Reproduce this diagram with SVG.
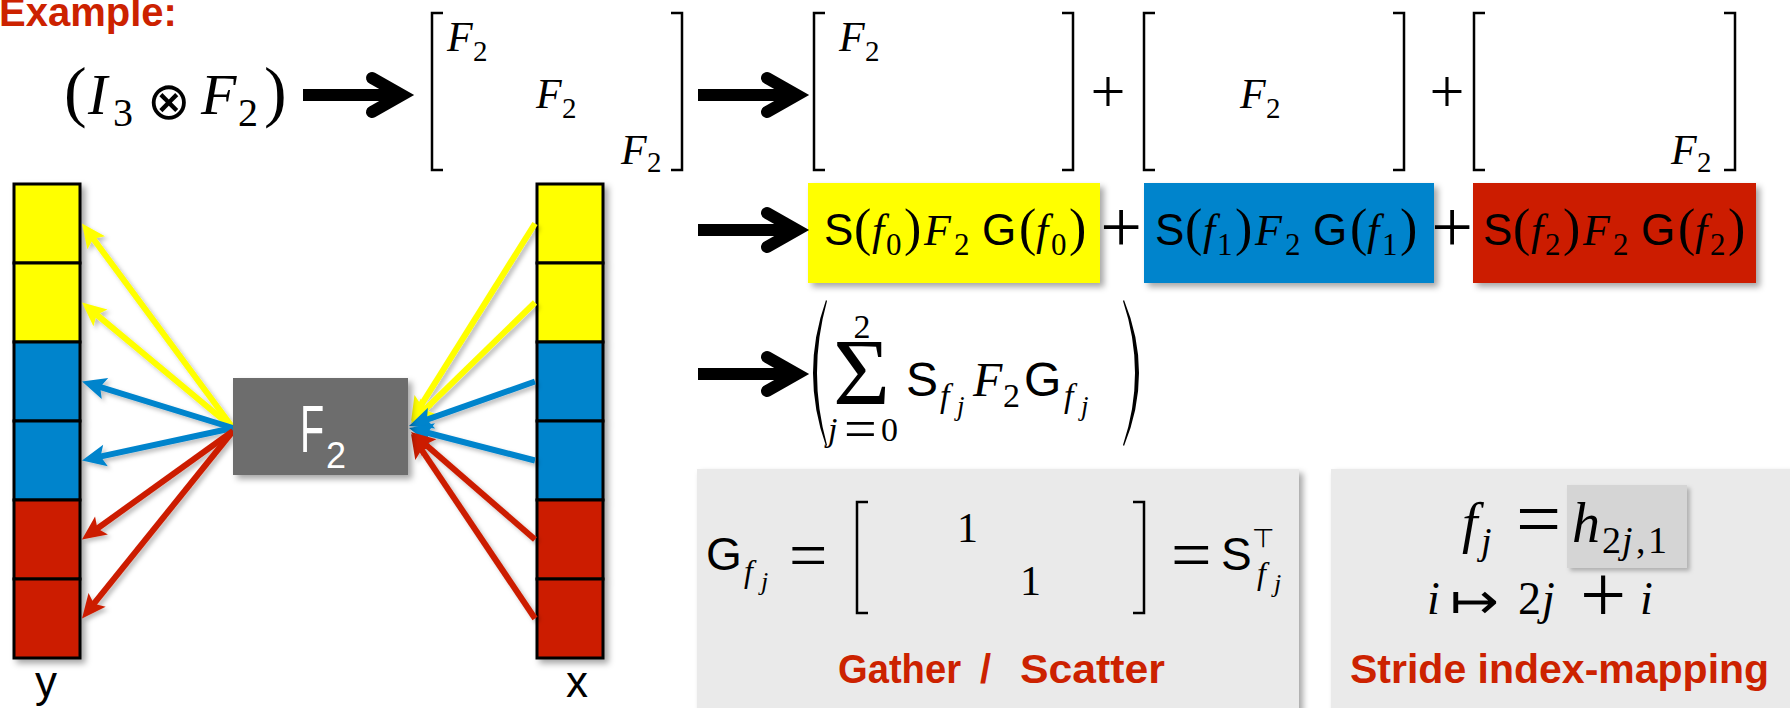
<svg xmlns="http://www.w3.org/2000/svg" width="1790" height="708" viewBox="0 0 1790 708">
<defs>
<style>
.mi{font-family:"Liberation Serif",serif;font-style:italic;fill:#000}
.mr{font-family:"Liberation Serif",serif;font-style:normal;fill:#000}
.ms{font-family:"Liberation Sans",sans-serif;font-style:normal;fill:#000}
.sym{font-family:"DejaVu Sans",sans-serif;fill:#000}
.lbl{font-family:"Liberation Sans",sans-serif;font-weight:bold;fill:#cc2200}
.brk{fill:none;stroke:#000;stroke-width:2.5}
.cell{stroke:#000;stroke-width:3}
.cy{fill:#ffff00}.cb{fill:#0084cc}.cr{fill:#cc1e00}
.big{fill:none;stroke:#000;stroke-width:12}
.ay{stroke:#ffff00;stroke-width:6;fill:none;marker-end:url(#hy)}
.ab{stroke:#0084cc;stroke-width:6;fill:none;marker-end:url(#hb)}
.ar{stroke:#cc1e00;stroke-width:6;fill:none;marker-end:url(#hr)}
.w{font-family:"Liberation Sans",sans-serif;fill:#fff}
</style>
<filter id="sh" x="-20%" y="-20%" width="140%" height="140%"><feDropShadow dx="4" dy="4" stdDeviation="3" flood-color="#000" flood-opacity="0.35"/></filter>
<filter id="shl" x="-20%" y="-20%" width="140%" height="140%"><feDropShadow dx="3" dy="3" stdDeviation="2" flood-color="#000" flood-opacity="0.25"/></filter>
<marker id="hy" markerUnits="userSpaceOnUse" orient="auto" viewBox="-15 -12 27 24" refX="0" refY="0" markerWidth="27" markerHeight="24"><path d="M10,0 L-14,-11 L-9,0 L-14,11 Z" fill="#ffff00"/></marker>
<marker id="hb" markerUnits="userSpaceOnUse" orient="auto" viewBox="-15 -12 27 24" refX="0" refY="0" markerWidth="27" markerHeight="24"><path d="M10,0 L-14,-11 L-9,0 L-14,11 Z" fill="#0084cc"/></marker>
<marker id="hr" markerUnits="userSpaceOnUse" orient="auto" viewBox="-15 -12 27 24" refX="0" refY="0" markerWidth="27" markerHeight="24"><path d="M10,0 L-14,-11 L-9,0 L-14,11 Z" fill="#cc1e00"/></marker>
<g id="bigArrow"><path class="big" d="M0,0 H96"/><path class="big" d="M69,-17 L99,0 L69,17" stroke-linecap="round" stroke-linejoin="miter"/></g>
</defs>
<rect width="1790" height="708" fill="#fff"/>

<g id="title"><text class="lbl" x="-1" y="26" font-size="40">Example:</text></g>

<g id="expr-kron">
<text font-size="58">
<tspan class="mr" x="64" y="114" font-size="68">(</tspan>
<tspan class="mi" x="88" y="114">I</tspan>
<tspan class="mr" x="113" y="126" font-size="40">3</tspan>
<tspan class="sym" x="147" y="119" font-size="52">⊗</tspan>
<tspan class="mi" x="201" y="114">F</tspan>
<tspan class="mr" x="238" y="126" font-size="40">2</tspan>
<tspan class="mr" x="264" y="114" font-size="68">)</tspan>
</text>
</g>

<g id="matrix-blockdiag">
<path class="brk" d="M443,13 H432 V170 H443"/>
<path class="brk" d="M671,13 H682 V170 H671"/>
<text font-size="42">
<tspan class="mi" x="447" y="51">F</tspan><tspan class="mr" x="473" y="61" font-size="29">2</tspan>
<tspan class="mi" x="536" y="108">F</tspan><tspan class="mr" x="562" y="118" font-size="29">2</tspan>
<tspan class="mi" x="621" y="164">F</tspan><tspan class="mr" x="647" y="172" font-size="29">2</tspan>
</text>
</g>

<g id="matrix-part-0">
<path class="brk" d="M825,13 H814 V170 H825"/>
<path class="brk" d="M1062,13 H1073 V170 H1062"/>
<text font-size="42"><tspan class="mi" x="839" y="51">F</tspan><tspan class="mr" x="865" y="61" font-size="29">2</tspan></text>
</g>
<g id="plus-1"><text class="mr" x="1108" y="112" font-size="62" text-anchor="middle">+</text></g>
<g id="matrix-part-1">
<path class="brk" d="M1155,13 H1144 V170 H1155"/>
<path class="brk" d="M1393,13 H1404 V170 H1393"/>
<text font-size="42"><tspan class="mi" x="1240" y="108">F</tspan><tspan class="mr" x="1266" y="118" font-size="29">2</tspan></text>
</g>
<g id="plus-2"><text class="mr" x="1447" y="112" font-size="62" text-anchor="middle">+</text></g>
<g id="matrix-part-2">
<path class="brk" d="M1485,13 H1474 V170 H1485"/>
<path class="brk" d="M1724,13 H1735 V170 H1724"/>
<text font-size="42"><tspan class="mi" x="1671" y="164">F</tspan><tspan class="mr" x="1697" y="172" font-size="29">2</tspan></text>
</g>

<g id="term-0">
<rect x="808" y="183" width="292" height="100" fill="#ffff00" filter="url(#sh)"/>
<text font-size="44">
<tspan class="ms" x="824" y="245">S</tspan><tspan class="mr" x="854" y="245" font-size="52">(</tspan><tspan class="mi" x="872" y="245">f</tspan><tspan class="mr" x="886" y="255" font-size="31">0</tspan><tspan class="mr" x="904" y="245" font-size="52">)</tspan><tspan class="mi" x="924" y="245">F</tspan><tspan class="mr" x="954" y="255" font-size="31">2</tspan><tspan class="ms" x="982" y="245">G</tspan><tspan class="mr" x="1019" y="245" font-size="52">(</tspan><tspan class="mi" x="1036" y="245">f</tspan><tspan class="mr" x="1051" y="255" font-size="31">0</tspan><tspan class="mr" x="1069" y="245" font-size="52">)</tspan>
</text>
</g>
<g id="plus-3"><text class="mr" x="1121" y="252" font-size="74" text-anchor="middle">+</text></g>
<g id="term-1">
<rect x="1144" y="183" width="290" height="100" fill="#0084cc" filter="url(#sh)"/>
<text font-size="44">
<tspan class="ms" x="1155" y="245">S</tspan><tspan class="mr" x="1185" y="245" font-size="52">(</tspan><tspan class="mi" x="1203" y="245">f</tspan><tspan class="mr" x="1217" y="255" font-size="31">1</tspan><tspan class="mr" x="1235" y="245" font-size="52">)</tspan><tspan class="mi" x="1255" y="245">F</tspan><tspan class="mr" x="1285" y="255" font-size="31">2</tspan><tspan class="ms" x="1313" y="245">G</tspan><tspan class="mr" x="1350" y="245" font-size="52">(</tspan><tspan class="mi" x="1367" y="245">f</tspan><tspan class="mr" x="1382" y="255" font-size="31">1</tspan><tspan class="mr" x="1400" y="245" font-size="52">)</tspan>
</text>
</g>
<g id="plus-4"><text class="mr" x="1452" y="252" font-size="74" text-anchor="middle">+</text></g>
<g id="term-2">
<rect x="1473" y="183" width="283" height="100" fill="#cc1e00" filter="url(#sh)"/>
<text font-size="44">
<tspan class="ms" x="1483" y="245">S</tspan><tspan class="mr" x="1513" y="245" font-size="52">(</tspan><tspan class="mi" x="1531" y="245">f</tspan><tspan class="mr" x="1545" y="255" font-size="31">2</tspan><tspan class="mr" x="1563" y="245" font-size="52">)</tspan><tspan class="mi" x="1583" y="245">F</tspan><tspan class="mr" x="1613" y="255" font-size="31">2</tspan><tspan class="ms" x="1641" y="245">G</tspan><tspan class="mr" x="1678" y="245" font-size="52">(</tspan><tspan class="mi" x="1695" y="245">f</tspan><tspan class="mr" x="1710" y="255" font-size="31">2</tspan><tspan class="mr" x="1728" y="245" font-size="52">)</tspan>
</text>
</g>

<g id="sum-expr">
<path d="M826,300 Q800,373 826,446 L827,445 Q807,373 827,301 Z" fill="#000"/>
<path d="M1124,300 Q1154,373 1124,446 L1123,445 Q1147,373 1123,301 Z" fill="#000"/>
<text class="mr" x="833" y="405" font-size="95" textLength="57" lengthAdjust="spacingAndGlyphs">Σ</text>
<text class="mr" x="862" y="338" font-size="34" text-anchor="middle">2</text>
<text font-size="34"><tspan class="mi" x="828" y="441">j</tspan><tspan class="mr" x="844" y="448" font-size="58">=</tspan><tspan class="mr" x="881" y="441">0</tspan></text>
<text font-size="48">
<tspan class="ms" x="906" y="396">S</tspan><tspan class="mi" x="940" y="407" font-size="34">f</tspan><tspan class="mi" x="957" y="415" font-size="27">j</tspan><tspan class="mi" x="973" y="396">F</tspan><tspan class="mr" x="1003" y="407" font-size="34">2</tspan><tspan class="ms" x="1024" y="396">G</tspan><tspan class="mi" x="1064" y="407" font-size="34">f</tspan><tspan class="mi" x="1081" y="415" font-size="27">j</tspan>
</text>
</g>

<g id="gather-panel">
<rect x="697" y="469" width="602" height="260" fill="#eaeaea" filter="url(#sh)"/>
<text font-size="42">
<tspan class="ms" x="706" y="570" font-size="46">G</tspan><tspan class="mi" x="744" y="582" font-size="32">f</tspan><tspan class="mi" x="761" y="590" font-size="26">j</tspan>
<tspan class="mr" x="789" y="578" font-size="68">=</tspan>
<tspan class="mr" x="957" y="542">1</tspan>
<tspan class="mr" x="1020" y="595">1</tspan>
<tspan class="mr" x="1171" y="579" font-size="72">=</tspan>
<tspan class="ms" x="1221" y="570" font-size="46">S</tspan><tspan class="sym" x="1252" y="547" font-size="26">⊤</tspan><tspan class="mi" x="1257" y="584" font-size="32">f</tspan><tspan class="mi" x="1274" y="592" font-size="26">j</tspan>
</text>
<path class="brk" d="M868,502 H857 V613 H868"/>
<path class="brk" d="M1133,502 H1144 V613 H1133"/>
<text class="lbl" x="838" y="683" font-size="40" textLength="123" lengthAdjust="spacingAndGlyphs">Gather</text>
<text class="lbl" x="980" y="683" font-size="40">/</text>
<text class="lbl" x="1020" y="683" font-size="40" textLength="145" lengthAdjust="spacingAndGlyphs">Scatter</text>
</g>

<g id="stride-panel">
<rect x="1331" y="469" width="480" height="260" fill="#eaeaea" filter="url(#sh)"/>
<rect x="1567" y="485" width="120" height="83" fill="#d5d5d5" filter="url(#shl)"/>
<text font-size="56">
<tspan class="mi" x="1462" y="542">f</tspan><tspan class="mi" x="1481" y="554" font-size="38">j</tspan>
<tspan class="mr" x="1516" y="546" font-size="80">=</tspan>
<tspan class="mi" x="1572" y="542">h</tspan><tspan class="mr" x="1602" y="553" font-size="38">2</tspan><tspan class="mi" x="1622" y="553" font-size="38">j</tspan><tspan class="mr" x="1636" y="553" font-size="38">,</tspan><tspan class="mr" x="1648" y="553" font-size="38">1</tspan>
</text>
<text font-size="46">
<tspan class="mi" x="1427" y="614">i</tspan><tspan class="sym" x="1450" y="618" font-size="50" textLength="49" lengthAdjust="spacingAndGlyphs">↦</tspan><tspan class="mr" x="1518" y="614">2</tspan><tspan class="mi" x="1542" y="614">j</tspan><tspan class="mr" x="1580" y="622" font-size="82">+</tspan><tspan class="mi" x="1640" y="614">i</tspan>
</text>
<text class="lbl" x="1350" y="683" font-size="41">Stride index-mapping</text>
</g>

<g id="vec-y" filter="url(#sh)">
<rect class="cell cy" x="14" y="184" width="66" height="79"/>
<rect class="cell cy" x="14" y="263" width="66" height="79"/>
<rect class="cell cb" x="14" y="342" width="66" height="79"/>
<rect class="cell cb" x="14" y="421" width="66" height="79"/>
<rect class="cell cr" x="14" y="500" width="66" height="79"/>
<rect class="cell cr" x="14" y="579" width="66" height="79"/>
</g>
<g id="label-y"><text class="ms" x="46" y="697" font-size="44" text-anchor="middle">y</text></g>

<g id="vec-x" filter="url(#sh)">
<rect class="cell cy" x="537" y="184" width="66" height="79"/>
<rect class="cell cy" x="537" y="263" width="66" height="79"/>
<rect class="cell cb" x="537" y="342" width="66" height="79"/>
<rect class="cell cb" x="537" y="421" width="66" height="79"/>
<rect class="cell cr" x="537" y="500" width="66" height="79"/>
<rect class="cell cr" x="537" y="579" width="66" height="79"/>
</g>
<g id="label-x"><text class="ms" x="577" y="697" font-size="44" text-anchor="middle">x</text></g>

<g id="connectors">
<g filter="url(#shl)">
<path class="ay" d="M233,428 L87.9,231.5"/>
<path class="ay" d="M233,428 L89.7,308.9"/>
<path class="ab" d="M233,428 L91.6,384.4"/>
<path class="ab" d="M233,428 L91.8,458.4"/>
<path class="ar" d="M233,431 L90.1,533.7"/>
<path class="ar" d="M233,431 L88.3,610.7"/>
<path class="ay" d="M535,223.5 L416.4,412.6"/>
<path class="ay" d="M535,302.5 L418.2,416.1"/>
<path class="ab" d="M535,381.5 L418.4,422.7"/>
<path class="ab" d="M535,460.5 L418.7,430.5"/>
<path class="ar" d="M535,539.5 L418.6,438.5"/>
<path class="ar" d="M535,618.5 L416.6,442.3"/>
</g>
<use href="#bigArrow" x="303" y="95"/>
<use href="#bigArrow" x="698" y="95"/>
<use href="#bigArrow" x="698" y="230"/>
<use href="#bigArrow" x="698" y="374"/>
</g>

<g id="f2-box">
<rect x="233" y="378" width="175" height="97" fill="#6d6d6d" filter="url(#sh)"/>
<text class="w" font-size="66" transform="translate(300,452) scale(0.6,1)">F</text>
<text class="w" x="326" y="468" font-size="36">2</text>
</g>
</svg>
